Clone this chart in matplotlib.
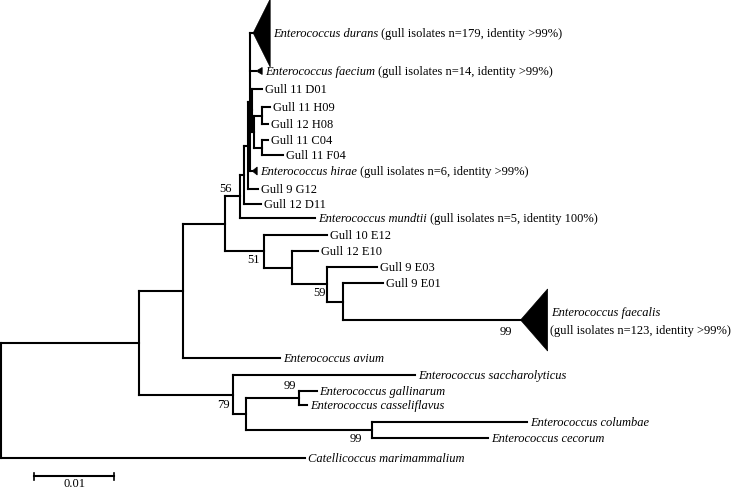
import matplotlib
matplotlib.use("Agg")
import matplotlib.pyplot as plt
from matplotlib.patches import Polygon

# ------------------------------------------------------------------ data
# tree topology: internal node -> ordered children
children = {
    "root": ["A", "catell"],
    "A": ["B", "C"],
    "B": ["D", "avium"],
    "D": ["E", "F"],
    "E": ["E2", "mundtii"],
    "E2": ["E3", "g12d11"],
    "E3": ["E4", "g9g12"],
    "E4": ["durans", "faecium", "G1", "hirae"],
    "G1": ["g11d01", "G2"],
    "G2": ["G3", "G4"],
    "G3": ["g11h09", "g12h08"],
    "G4": ["g11c04", "g11f04"],
    "F": ["g10e12", "G"],
    "G": ["g12e10", "H"],
    "H": ["g9e03", "I"],
    "I": ["g9e01", "faecalis"],
    "C": ["sacch", "J"],
    "J": ["K", "L"],
    "K": ["gallinarum", "cassel"],
    "L": ["columbae", "cecorum"],
}

# branch lengths (substitutions per site)
branch_length = {
    "A": 0.01725, "catell": 0.0380,
    "B": 0.0055, "C": 0.01175,
    "D": 0.00525, "avium": 0.0121,
    "E": 0.0019, "F": 0.0049,
    "E2": 0.0005, "mundtii": 0.0094,
    "E3": 0.0005, "g12d11": 0.0021,
    "E4": 0.00025, "g9g12": 0.00125,
    "durans": 0.000375, "faecium": 0.00075, "G1": 0.00025, "hirae": 0.00025,
    "g11d01": 0.00125, "G2": 0.00025,
    "G3": 0.0010, "G4": 0.0010,
    "g11h09": 0.0010, "g12h08": 0.00075,
    "g11c04": 0.00075, "g11f04": 0.0026,
    "g10e12": 0.0079, "G": 0.0035,
    "g12e10": 0.00325, "H": 0.0044,
    "g9e03": 0.00625, "I": 0.0019,
    "g9e01": 0.0050, "faecalis": 0.02225,
    "sacch": 0.0228, "J": 0.0016,
    "K": 0.0066, "L": 0.0158,
    "gallinarum": 0.00225, "cassel": 0.0011,
    "columbae": 0.0194, "cecorum": 0.0145,
}

# vertical row of each leaf (top = 0)
leaf_rows = {
    "durans": 33, "faecium": 71, "g11d01": 89, "g11h09": 107, "g12h08": 124,
    "g11c04": 140, "g11f04": 155, "hirae": 171, "g9g12": 189, "g12d11": 204,
    "mundtii": 218, "g10e12": 235, "g12e10": 251, "g9e03": 267, "g9e01": 283,
    "faecalis": 320, "avium": 358, "sacch": 375, "gallinarum": 391,
    "cassel": 405, "columbae": 422, "cecorum": 438, "catell": 458,
}

# leaf labels: (italic part, plain part)
leaf_labels = {
    "durans": ("Enterococcus durans", " (gull isolates n=179, identity >99%)"),
    "faecium": ("Enterococcus faecium", " (gull isolates n=14, identity >99%)"),
    "g11d01": ("", "Gull 11 D01"),
    "g11h09": ("", "Gull 11 H09"),
    "g12h08": ("", "Gull 12 H08"),
    "g11c04": ("", "Gull 11 C04"),
    "g11f04": ("", "Gull 11 F04"),
    "hirae": ("Enterococcus hirae", " (gull isolates n=6, identity >99%)"),
    "g9g12": ("", "Gull 9 G12"),
    "g12d11": ("", "Gull 12 D11"),
    "mundtii": ("Enterococcus mundtii", " (gull isolates n=5, identity 100%)"),
    "g10e12": ("", "Gull 10 E12"),
    "g12e10": ("", "Gull 12 E10"),
    "g9e03": ("", "Gull 9 E03"),
    "g9e01": ("", "Gull 9 E01"),
    "avium": ("Enterococcus avium", ""),
    "sacch": ("Enterococcus saccharolyticus", ""),
    "gallinarum": ("Enterococcus gallinarum", ""),
    "cassel": ("Enterococcus casseliflavus", ""),
    "columbae": ("Enterococcus columbae", ""),
    "cecorum": ("Enterococcus cecorum", ""),
    "catell": ("Catellicoccus marimammalium", ""),
}
faecalis_label = ("Enterococcus faecalis", "(gull isolates n=123, identity >99%)")

# bootstrap support values
bootstrap = {"E": 56, "F": 51, "H": 59, "C": 79, "K": 99, "L": 99, "faecalis": 99}

scale_bar_length = 0.01
scale_bar_label = "0.01"

# ------------------------------------------------------------------ style
W, H = 733, 491
PX_PER_UNIT = 8000.0          # 0.01 -> 80 px
X0_PX = 1.0
FONT = "Liberation Serif"
FS = 9.0
LW = 1.5

# collapsed clades: (triangle depth px, triangle height px)
collapsed_style = {
    "durans": (17, 68),
    "faecium": (6, 7),
    "hirae": (5, 8),
    "faecalis": (27, 62),
}
# bootstrap label offsets (dx px from node, dy px, vertical alignment)
boot_style = {
    "E": (-8, -1, "bottom"),
    "F": (-4, 3, "top"),
    "H": (-2, 3, "top"),
    "C": (-3, 5, "top"),
    "K": (-2, -6, "bottom"),
    "L": (-10, 3, "top"),
    "faecalis": (-8, 6, "top"),
}

# ------------------------------------------------------------------ layout
xpos, ypos = {}, {}


def place(node, x):
    xpos[node] = x
    if node in children:
        for c in children[node]:
            place(c, x + branch_length[c])
        kids = children[node]
        ypos[node] = (ypos[kids[0]] + ypos[kids[-1]]) / 2.0
    else:
        ypos[node] = leaf_rows[node]


place("root", 0.0)

fig = plt.figure(figsize=(W / 100, H / 100), dpi=100)
ax = fig.add_axes([0, 0, 1, 1])
ax.set_xlim(-X0_PX / PX_PER_UNIT, (W - X0_PX) / PX_PER_UNIT)
ax.set_ylim(H, 0)
ax.axis("off")
px = 1.0 / PX_PER_UNIT

line_kw = dict(color="black", lw=LW, solid_capstyle="projecting")

for node, kids in children.items():
    ax.plot([xpos[node], xpos[node]], [ypos[kids[0]], ypos[kids[-1]]], **line_kw)
    for c in kids:
        ax.plot([xpos[node], xpos[c]], [ypos[c], ypos[c]], **line_kw)

# collapsed triangles
for clade, (depth, height) in collapsed_style.items():
    xa, ya = xpos[clade], ypos[clade]
    tri = Polygon([(xa, ya), (xa + depth * px, ya - height / 2), (xa + depth * px, ya + height / 2)],
                  closed=True, facecolor="black", edgecolor="black", lw=0.5)
    ax.add_patch(tri)

fig.canvas.draw()
renderer = fig.canvas.get_renderer()


def two_part(x, y, ital, plain):
    xcur = x
    if ital:
        t = ax.text(xcur, y, ital, fontstyle="italic", fontfamily=FONT, fontsize=FS,
                    va="center", ha="left")
        bb = t.get_window_extent(renderer)
        xcur = ax.transData.inverted().transform((bb.x1, 0))[0]
    if plain:
        ax.text(xcur, y, plain, fontfamily=FONT, fontsize=FS, va="center", ha="left")


for leaf, (ital, plain) in leaf_labels.items():
    x = xpos[leaf]
    if leaf in collapsed_style:
        x += collapsed_style[leaf][0] * px
    two_part(x + 3 * px, ypos[leaf] + 1, ital, plain)

# faecalis two-line label
xf = xpos["faecalis"] + collapsed_style["faecalis"][0] * px
ax.text(xf + 4 * px, ypos["faecalis"] - 7, faecalis_label[0], fontstyle="italic",
        fontfamily=FONT, fontsize=FS, va="center", ha="left")
ax.text(xf + 2 * px, ypos["faecalis"] + 11, faecalis_label[1],
        fontfamily=FONT, fontsize=FS, va="center", ha="left")

# bootstrap values
for node, val in bootstrap.items():
    dx, dy, va = boot_style[node]
    ax.text(xpos[node] + dx * px, ypos[node] + dy, str(val), fontfamily=FONT,
            fontsize=FS, ha="right", va=va)

# scale bar
sb_x0 = (34 - X0_PX) * px
sb_y = 476
ax.plot([sb_x0, sb_x0 + scale_bar_length], [sb_y, sb_y], color="black", lw=LW)
for xx in (sb_x0, sb_x0 + scale_bar_length):
    ax.plot([xx, xx], [sb_y - 3.5, sb_y + 3.5], color="black", lw=1.2)
ax.text(sb_x0 + scale_bar_length / 2, sb_y + 8, scale_bar_label, fontfamily=FONT,
        fontsize=FS, ha="center", va="center")

fig.savefig("out.png", dpi=100)
